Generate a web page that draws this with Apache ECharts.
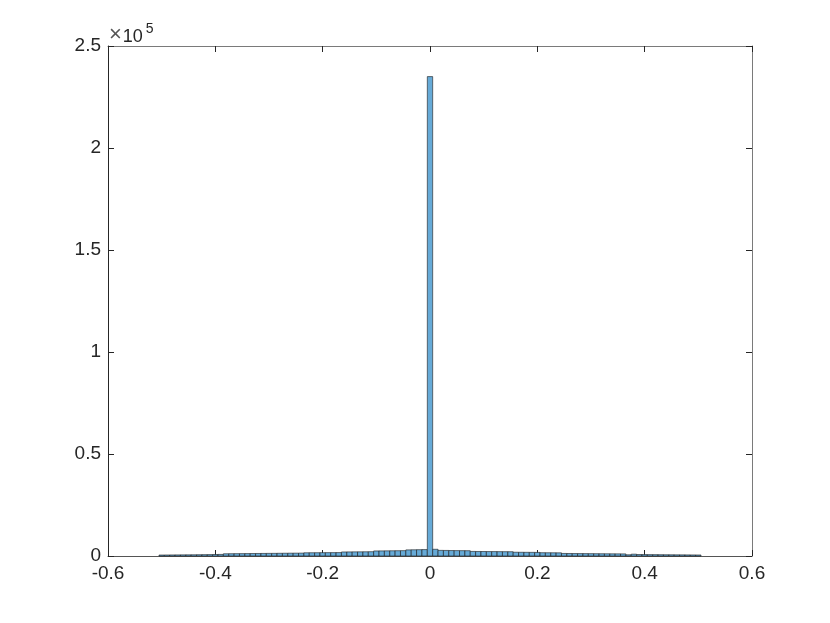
<!DOCTYPE html>
<html>
<head>
<meta charset="utf-8">
<script src="https://cdn.jsdelivr.net/npm/echarts@6/dist/echarts.min.js"></script>
<style>
  html, body { margin: 0; padding: 0; background: #fff; }
  #chart { width: 830px; height: 623px; }
</style>
</head>
<body>
<div id="chart"></div>
<script>
// histogram bins: centers from -0.50 to 0.50, width 0.01
const binWidth = 0.01
const binCenters = [
  -0.50, -0.49, -0.48, -0.47, -0.46, -0.45, -0.44, -0.43, -0.42, -0.41,
  -0.40, -0.39, -0.38, -0.37, -0.36, -0.35, -0.34, -0.33, -0.32, -0.31,
  -0.30, -0.29, -0.28, -0.27, -0.26, -0.25, -0.24, -0.23, -0.22, -0.21,
  -0.20, -0.19, -0.18, -0.17, -0.16, -0.15, -0.14, -0.13, -0.12, -0.11,
  -0.10, -0.09, -0.08, -0.07, -0.06, -0.05, -0.04, -0.03, -0.02, -0.01,
  0.00,
  0.01, 0.02, 0.03, 0.04, 0.05, 0.06, 0.07, 0.08, 0.09, 0.10,
  0.11, 0.12, 0.13, 0.14, 0.15, 0.16, 0.17, 0.18, 0.19, 0.20,
  0.21, 0.22, 0.23, 0.24, 0.25, 0.26, 0.27, 0.28, 0.29, 0.30,
  0.31, 0.32, 0.33, 0.34, 0.35, 0.36, 0.37, 0.38, 0.39, 0.40,
  0.41, 0.42, 0.43, 0.44, 0.45, 0.46, 0.47, 0.48, 0.49, 0.50
]
const counts = [
  480, 500, 520, 540, 560, 580, 600, 630, 660, 700,
  740, 780, 1100, 1120, 1150, 1170, 1190, 1220, 1240, 1260,
  1280, 1300, 1330, 1350, 1380, 1400, 1420, 1580, 1600, 1610,
  1630, 1650, 1660, 1680, 1980, 2000, 2030, 2050, 2070, 2100,
  2480, 2500, 2530, 2560, 2590, 2620, 3000, 3050, 3100, 3150,
  235000,
  3300, 2750, 2720, 2680, 2650, 2620, 2600, 2250, 2220, 2200,
  2180, 2160, 2140, 2120, 2100, 1850, 1830, 1800, 1780, 1760,
  1620, 1600, 1580, 1560, 1250, 1230, 1210, 1190, 1170, 1150,
  1130, 1110, 1090, 1070, 1050, 1030, 600, 900, 720, 700,
  680, 660, 640, 620, 600, 580, 560, 540, 520, 500
]
const xTicks = [-0.6, -0.4, -0.2, 0, 0.2, 0.4, 0.6]
const yTicks = [0, 0.5, 1, 1.5, 2, 2.5]
const yScale = 1e5

const axisColor = '#262626'
const boxColor = '#7a7a7a'
const fontFamily = 'Liberation Sans, Arial, sans-serif'
const labelFont = { color: axisColor, fontSize: 19, fontFamily: fontFamily }

const histData = binCenters.map((c, i) => [c - binWidth / 2, c + binWidth / 2, counts[i]])

const chart = echarts.init(document.getElementById('chart'))
chart.setOption({
  animation: false,
  backgroundColor: '#fff',
  grid: { left: 108, right: 78, top: 46, bottom: 67, containLabel: false },
  xAxis: [{
    type: 'value',
    position: 'bottom',
    min: xTicks[0],
    max: xTicks[xTicks.length - 1],
    interval: 0.2,
    axisLine: { show: true, onZero: false, lineStyle: { color: '#555', width: 1 } },
    axisTick: { show: true, inside: true, length: 6, lineStyle: { color: axisColor } },
    axisLabel: Object.assign({ margin: 8, formatter: v => String(Math.round(v * 10) / 10) }, labelFont),
    splitLine: { show: false }
  }, {
    type: 'value',
    position: 'top',
    min: xTicks[0],
    max: xTicks[xTicks.length - 1],
    interval: 0.2,
    axisLine: { show: true, onZero: false, lineStyle: { color: boxColor, width: 1 } },
    axisTick: { show: true, inside: true, length: 6, lineStyle: { color: axisColor } },
    axisLabel: { show: false },
    splitLine: { show: false }
  }],
  yAxis: [{
    type: 'value',
    position: 'left',
    min: 0,
    max: yTicks[yTicks.length - 1] * yScale,
    interval: 0.5 * yScale,
    axisLine: { show: true, onZero: false, lineStyle: { color: axisColor, width: 1 } },
    axisTick: { show: true, inside: true, length: 6, lineStyle: { color: axisColor } },
    axisLabel: Object.assign({ margin: 7, formatter: v => String(Math.round(v / yScale * 10) / 10) }, labelFont),
    splitLine: { show: false }
  }, {
    type: 'value',
    position: 'right',
    min: 0,
    max: yTicks[yTicks.length - 1] * yScale,
    interval: 0.5 * yScale,
    axisLine: { show: true, onZero: false, lineStyle: { color: boxColor, width: 1 } },
    axisTick: { show: true, inside: true, length: 6, lineStyle: { color: axisColor } },
    axisLabel: { show: false },
    splitLine: { show: false }
  }],
  graphic: [{
    type: 'text',
    left: 109,
    top: 22,
    style: {
      text: '{a|×}{c|10}{b|5}',
      rich: {
        a: { fontSize: 22, fill: '#555', fontFamily: fontFamily, verticalAlign: 'bottom', padding: [0, 1, 0, 0] },
        c: { fontSize: 18, fill: axisColor, fontFamily: fontFamily, verticalAlign: 'bottom' },
        b: { fontSize: 14, fill: axisColor, fontFamily: fontFamily, verticalAlign: 'top', padding: [0, 0, 10, 3] }
      }
    }
  }],
  series: [{
    type: 'custom',
    xAxisIndex: 0,
    yAxisIndex: 0,
    data: histData,
    encode: { x: [0, 1], y: 2 },
    renderItem: function (params, api) {
      const p0 = api.coord([api.value(0), 0])
      const p1 = api.coord([api.value(1), api.value(2)])
      return {
        type: 'rect',
        shape: { x: p0[0], y: p1[1], width: p1[0] - p0[0], height: p0[1] - p1[1] },
        style: { fill: '#66aad7', stroke: '#1a1a1a', lineWidth: 0.6 }
      }
    }
  }]
})
</script>
</body>
</html>
